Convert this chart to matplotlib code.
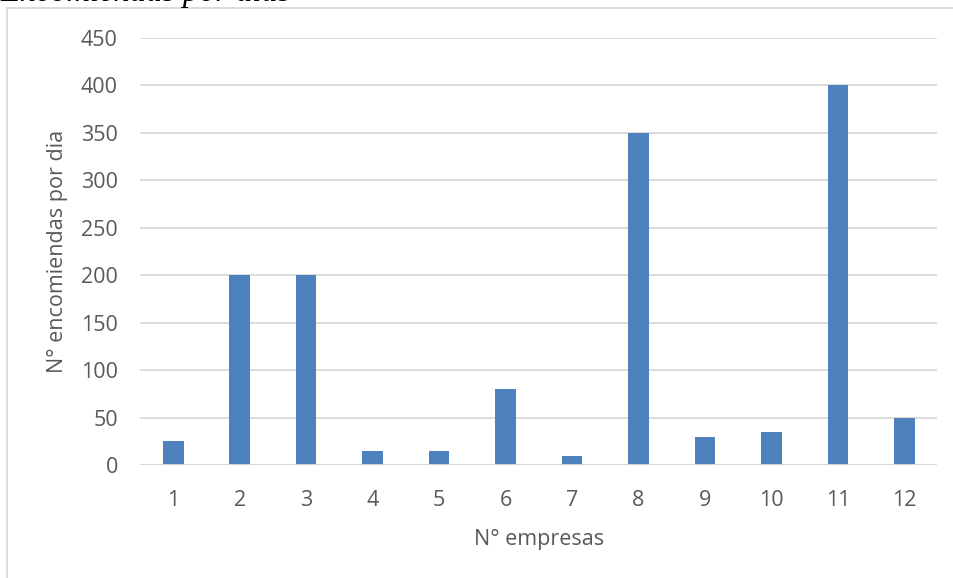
import matplotlib
matplotlib.use("Agg")
import matplotlib.pyplot as plt
from matplotlib.patches import Rectangle

empresas = [str(i) for i in range(1, 13)]
encomiendas = [25, 200, 200, 15, 15, 80, 10, 350, 30, 35, 400, 50]
y_ticks = [0, 50, 100, 150, 200, 250, 300, 350, 400, 450]

W, H = 954, 578
fig = plt.figure(figsize=(W / 100, H / 100), dpi=100)
fig.patch.set_facecolor("white")

# outer chart frame
fig.add_artist(Rectangle((7 / W, -0.05), 1.1, 1 - 8 / H + 0.05,
                         transform=fig.transFigure, fill=False,
                         edgecolor="#d9d9d9", linewidth=1.3))

# caption above the chart, partially clipped by the top edge
fig.text(0.0, 1 - 1.2 / H, "Encomiendas por días", fontsize=23.3,
         family="Liberation Serif", style="italic", va="baseline", ha="left")

left, right = 140 / W, 937.5 / W
bottom, top = 1 - 465 / H, 1 - 38 / H
ax = fig.add_axes([left, bottom, right - left, top - bottom])

x = list(range(len(empresas)))
ax.bar(x, encomiendas, width=0.31, color="#4f81bd", zorder=3)

ax.set_xlim(-0.5, len(empresas) - 0.5)
ax.set_ylim(0, 450)
ax.set_yticks(y_ticks)
ax.set_xticks(x)
ax.set_xticklabels(empresas)
ax.yaxis.grid(True, color="#d9d9d9", linewidth=1.3, zorder=0)
for s in ax.spines.values():
    s.set_visible(False)
ax.axhline(0, color="#d9d9d9", linewidth=1.3, zorder=4)
ax.tick_params(length=0, labelsize=15.5, labelcolor="#595959")
ax.tick_params(axis="x", pad=18)
ax.tick_params(axis="y", pad=16)
for lbl in ax.get_xticklabels() + ax.get_yticklabels():
    lbl.set_family("Open Sans")

ax.set_xlabel("N° empresas", fontsize=15.5, color="#595959",
              family="Open Sans", labelpad=13)
ax.set_ylabel("N° encomiendas por dia", fontsize=15.5, color="#595959",
              family="Open Sans", labelpad=9)

fig.savefig("out.png", dpi=100)
